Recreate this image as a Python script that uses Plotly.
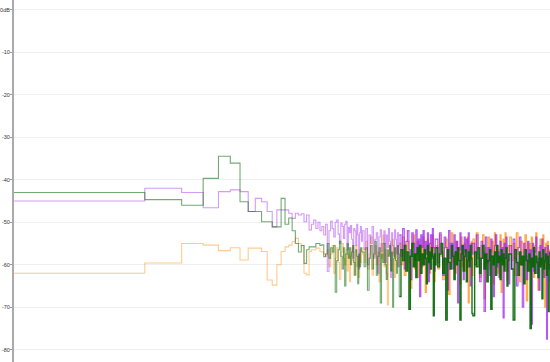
import math
import plotly.graph_objects as go

# ---------------- data ----------------
BIN_HZ = 48000 / 4096          # width of one FFT bin in Hz
NYQUIST_HZ = 24000

# first 30 bins, read one by one
SPARSE_BINS = list(range(0, 30))
# above bin 30 the bins are sub-pixel; sampled bins
DENSE_BINS = (list(range(30, 60)) + list(range(60, 120, 2)) + list(range(120, 240, 4))
              + list(range(240, 480, 8)) + list(range(480, 960, 16)) + list(range(960, 2049, 32)))

GREEN_SPARSE = [-43.0, -44.7, -46.0, -39.7, -34.5, -36.1, -45.2, -47.5, -47.5, -49.9,
                -49.9, -51.1, -51.1, -44.4, -50.5, -49.0, -52.0, -55.0, -57.0, -55.5,
                -59.7, -56.5, -55.8, -55.8, -55.8, -55.0, -55.0, -55.5, -55.3, -58.1]
PURPLE_SPARSE = [-45.0, -42.0, -43.0, -46.6, -42.8, -42.4, -42.8, -47.5, -44.4, -45.2,
                 -47.5, -51.1, -47.1, -47.1, -47.1, -47.9, -49.1, -47.9, -48.3, -48.0,
                 -49.9, -48.3, -51.8, -50.5, -49.5, -51.5, -50.0, -52.0, -51.0, -53.0]
ORANGE_SPARSE = [-62.0, -59.6, -55.0, -55.4, -56.7, -56.0, -58.9, -56.1, -56.1, -56.9,
                 -63.6, -64.8, -60.0, -56.9, -55.8, -55.4, -54.6, -53.8, -55.0, -55.5,
                 -62.0, -62.4, -56.9, -56.5, -56.5, -56.1, -56.1, -56.9, -57.0, -57.5]

GREEN_DENSE = [
    -57.5, -55.0, -58.5, -56.0, -57.0, -55.5, -66.5, -59.0, -56.5, -54.5, -58.0, -61.0, -56.0, -65.0, -57.5,
    -55.0, -58.5, -56.0, -60.0, -57.0, -55.5, -59.5, -62.5, -56.5, -58.0, -64.5, -57.5, -60.5, -56.0, -57.0,
    -57.0, -60.5, -56.0, -66.0, -58.5, -55.5, -61.0, -57.5, -54.5, -62.5, -58.0, -56.0, -69.0, -57.5, -59.5,
    -55.0, -60.0, -63.5, -56.5, -58.0, -55.5, -61.5, -57.0, -70.0, -58.5, -56.0, -59.0, -62.0, -55.5, -57.5,
    -67.5, -56.5, -59.0, -55.5, -61.5, -57.0, -70.5, -58.0, -55.0, -60.5, -57.5, -63.0, -56.0, -59.0, -55.5,
    -62.0, -57.5, -60.0, -56.5, -58.5, -64.5, -55.5, -59.5, -57.0, -61.0, -56.0, -58.0, -72.0, -57.5, -60.0,
    -56.0, -60.5, -57.5, -55.0, -62.0, -58.5, -73.0, -56.5, -59.5, -61.0, -55.5, -58.0, -63.5, -57.0, -60.0,
    -56.0, -59.0, -73.0, -57.5, -55.5, -61.5, -58.0, -56.5, -64.0, -59.0, -57.0, -60.5, -55.5, -58.5, -71.5,
    -72.0, -57.0, -60.5, -56.0, -62.0, -58.5, -55.5, -61.0, -57.5, -64.0, -59.0, -56.5, -70.5, -58.0, -60.0,
    -57.0, -62.5, -55.5, -59.5, -58.0, -63.5, -56.5, -60.0, -57.5, -61.5, -58.5, -56.0, -65.0, -59.0, -57.5,
    -57.5, -61.0, -73.0, -56.5, -59.5, -62.5, -57.0, -60.0, -58.0, -64.5, -56.5, -59.0, -61.5, -57.5, -75.0,
    -58.5, -60.5, -56.0, -62.0, -58.0, -59.5, -63.0, -57.0, -60.5, -58.5, -68.0, -56.5, -61.0, -59.0, -57.5,
    -62.5, -58.0, -71.0, -60.0, -57.0]
PURPLE_DENSE = [
    -50.5, -61.6, -52.0, -49.8, -51.5, -53.5, -50.0, -49.5, -52.8, -55.0, -50.2, -51.0, -53.8, -50.5, -49.8,
    -56.5, -51.2, -52.5, -50.8, -54.0, -58.5, -51.5, -52.0, -55.5, -50.5, -53.0, -61.0, -52.5, -51.0, -54.5,
    -52.0, -56.5, -51.5, -60.0, -53.0, -55.0, -51.0, -58.5, -54.0, -52.5, -62.0, -53.5, -51.8, -57.0, -55.0,
    -52.0, -59.5, -53.0, -56.0, -51.5, -54.5, -63.0, -52.5, -55.5, -58.0, -51.8, -54.0, -57.5, -52.5, -60.5,
    -53.0, -58.0, -51.5, -61.0, -54.5, -52.0, -56.5, -63.5, -52.5, -55.0, -59.0, -51.8, -57.5, -54.0, -67.5,
    -53.0, -56.0, -52.0, -60.0, -54.5, -57.5, -52.5, -64.0, -55.0, -53.0, -58.5, -51.5, -56.0, -61.5, -54.0,
    -54.0, -59.5, -52.5, -57.0, -62.5, -53.5, -56.0, -66.0, -52.0, -58.5, -55.0, -61.0, -53.0, -57.5, -54.5,
    -69.0, -56.5, -52.5, -59.0, -55.5, -63.5, -53.5, -57.0, -54.0, -60.5, -52.5, -58.0, -65.0, -55.0, -57.5,
    -55.0, -60.0, -53.0, -58.5, -64.0, -54.5, -57.0, -71.0, -53.5, -59.5, -56.0, -62.5, -54.0, -58.0, -67.5,
    -55.5, -53.0, -60.5, -57.0, -63.0, -54.5, -59.0, -56.0, -72.5, -55.0, -58.5, -53.5, -61.5, -57.5, -64.5,
    -55.5, -61.0, -54.0, -58.5, -65.0, -56.0, -53.5, -60.0, -70.0, -55.0, -58.0, -63.5, -54.5, -59.5, -56.5,
    -74.0, -55.0, -61.5, -57.0, -53.5, -62.0, -58.5, -66.0, -55.5, -60.0, -54.0, -57.5, -63.0, -56.0, -59.5,
    -77.5, -55.5, -61.0, -57.0, -64.0]
ORANGE_DENSE = [
    -58.0, -56.5, -60.5, -57.5, -55.5, -62.0, -58.5, -56.0, -59.5, -63.5, -57.0, -55.0, -58.5, -60.0, -56.5,
    -61.5, -57.5, -64.0, -58.0, -56.0, -59.0, -62.5, -57.0, -55.5, -60.5, -58.0, -63.0, -56.5, -59.5, -57.5,
    -56.0, -59.5, -54.5, -61.0, -57.5, -53.5, -62.5, -58.0, -55.5, -60.0, -57.0, -64.0, -55.0, -58.5, -53.0,
    -60.5, -56.5, -62.0, -69.5, -57.5, -55.0, -59.0, -61.5, -54.0, -57.5, -63.0, -56.0, -58.5, -60.5, -55.5,
    -55.0, -60.0, -53.5, -62.5, -57.0, -54.5, -59.5, -65.5, -56.0, -53.0, -61.0, -57.5, -54.5, -63.0, -58.0,
    -55.5, -60.5, -53.5, -57.0, -66.5, -56.5, -54.0, -59.0, -62.0, -55.0, -57.5, -53.0, -60.0, -64.0, -56.0,
    -55.5, -61.0, -53.0, -58.0, -63.5, -56.0, -54.0, -60.0, -67.0, -55.0, -52.5, -59.5, -57.5, -62.0, -54.5,
    -58.5, -56.0, -64.5, -53.5, -60.5, -57.0, -55.0, -61.5, -58.5, -53.5, -69.0, -56.5, -59.0, -54.5, -62.5,
    -54.0, -60.0, -52.5, -57.5, -63.0, -55.5, -53.0, -68.0, -56.0, -59.5, -53.5, -61.0, -57.0, -54.5, -64.5,
    -52.5, -58.0, -55.5, -62.0, -56.5, -53.0, -66.5, -57.5, -54.0, -60.5, -52.5, -58.5, -63.5, -55.5, -57.0,
    -53.5, -59.0, -55.0, -62.5, -52.5, -57.5, -64.0, -54.5, -60.0, -56.5, -53.0, -68.5, -58.0, -55.0, -61.5,
    -53.5, -57.0, -63.0, -55.5, -52.5, -59.5, -66.0, -56.0, -54.0, -60.5, -57.5, -53.0, -62.0, -70.0, -55.0,
    -58.5, -54.5, -61.0, -56.5, -59.0]

Y_TICKS = [0, -10, -20, -30, -40, -50, -60, -70, -80]
Y_TICK_TEXT = ["0dB", "-10", "-20", "-30", "-40", "-50", "-60", "-70", "-80"]

# ---------------- figure ----------------
bins = SPARSE_BINS + DENSE_BINS
freqs = [max(b * BIN_HZ, 1.0) for b in bins]   # DC bin pinned to the 1 Hz floor of the log axis
SPLIT_BIN = 120                                # where individual bins merge into a band

series = [
    (ORANGE_SPARSE + ORANGE_DENSE, (255, 140, 0), 0.45, 0.75, 1.2),
    (PURPLE_SPARSE + PURPLE_DENSE, (160, 32, 240), 0.45, 0.75, 1.2),
    (GREEN_SPARSE + GREEN_DENSE, (0, 100, 0), 0.55, 0.9, 1.4),
]

fig = go.Figure()
for vals, (r, g, b), a_lo, a_hi, w_hi in series:
    lo = [(f, v) for bn, f, v in zip(bins, freqs, vals) if bn <= SPLIT_BIN]
    hi = [(f, v) for bn, f, v in zip(bins, freqs, vals) if bn >= SPLIT_BIN]
    fig.add_trace(go.Scatter(x=[p[0] for p in lo], y=[p[1] for p in lo], mode="lines",
                             line=dict(color=f"rgba({r},{g},{b},{a_lo})", width=1.1, shape="hv"),
                             showlegend=False, hoverinfo="skip"))
    fig.add_trace(go.Scatter(x=[p[0] for p in hi], y=[p[1] for p in hi], mode="lines",
                             line=dict(color=f"rgba({r},{g},{b},{a_hi})", width=w_hi, shape="hv"),
                             showlegend=False, hoverinfo="skip"))

fig.update_layout(
    width=550, height=362,
    margin=dict(l=14, r=0, t=0, b=0),
    paper_bgcolor="white", plot_bgcolor="white",
    xaxis=dict(type="log", range=[0, math.log10(NYQUIST_HZ)], showgrid=False,
               showticklabels=False, ticks="", showline=False, zeroline=False),
    yaxis=dict(range=[-82.9, 2.28], tickvals=Y_TICKS, ticktext=Y_TICK_TEXT,
               ticks="outside", ticklen=2, tickcolor="#999", tickwidth=1,
               ticklabelstandoff=-1,
               tickfont=dict(size=5.5, color="#333", family="Liberation Sans"),
               showline=True, linecolor="#aaa", linewidth=2,
               showgrid=True, gridcolor="#efefef", gridwidth=1,
               zeroline=False, automargin=False),
)

fig.write_html("out.html", config={"displayModeBar": False},
               post_script="document.body.style.margin='0';")
